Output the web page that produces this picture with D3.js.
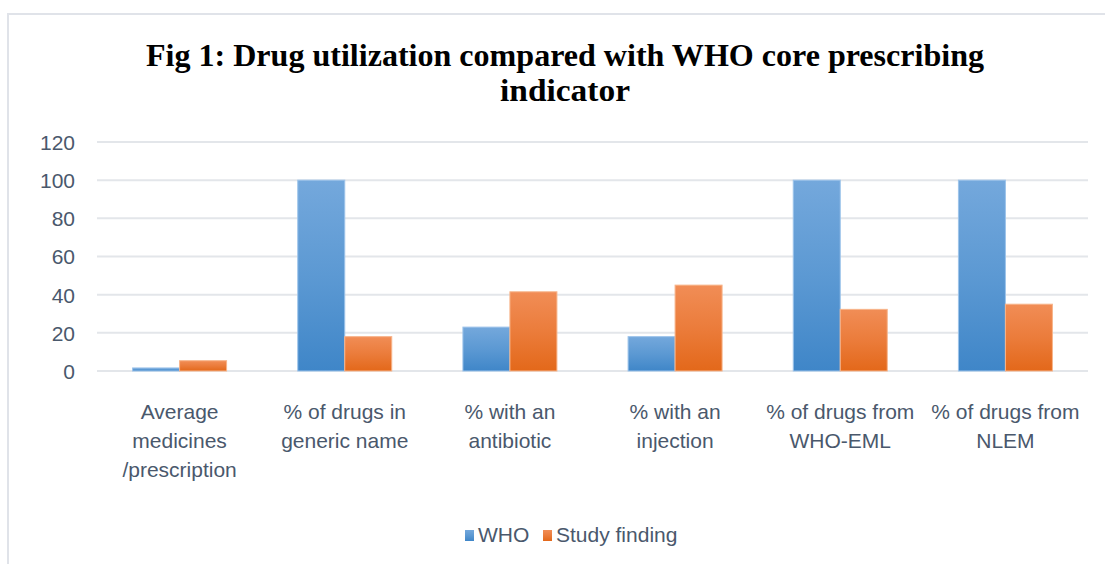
<!DOCTYPE html>
<html><head><meta charset="utf-8">
<script src="https://cdn.jsdelivr.net/npm/d3@7"></script>
<style>body{margin:0;background:#fff;}svg{display:block;}</style>
</head><body>
<svg id="c" width="1105" height="564"></svg>
<script>
const categories = [
  ["Average","medicines","/prescription"],
  ["% of drugs in","generic name"],
  ["% with an","antibiotic"],
  ["% with an","injection"],
  ["% of drugs from","WHO-EML"],
  ["% of drugs from","NLEM"]
];
const seriesNames = ["WHO","Study finding"];
const whoValues = [1.6, 100, 23, 18, 100, 100];
const studyValues = [5.4, 18, 41.5, 45, 32.3, 35];
const yTicks = [0,20,40,60,80,100,120];

const svg = d3.select("#c");
const defs = svg.append("defs");
function grad(id, c1, c2){
  const g = defs.append("linearGradient").attr("id",id).attr("x1",0).attr("y1",0).attr("x2",0).attr("y2",1);
  g.append("stop").attr("offset","0%").attr("stop-color",c1);
  g.append("stop").attr("offset","50%").attr("stop-color",d3.interpolateRgb(c1,c2)(0.45));
  g.append("stop").attr("offset","100%").attr("stop-color",c2);
}
grad("gBlue","#74a8dc","#3f86c8");
grad("gOrange","#f18d56","#e3681a");

const textFont = "'Liberation Sans',Arial,sans-serif";
const textColor = "#4a586c";

// frame
svg.append("rect").attr("x",8).attr("y",14).attr("width",1200).attr("height",700)
  .attr("fill","none").attr("stroke","#e0e3e9").attr("stroke-width",2);

const pLeft=97, pRight=1088, pTop=142, pBottom=371;
const x = d3.scaleBand().domain(d3.range(categories.length)).range([pLeft,pRight]).paddingInner(0).paddingOuter(0);
const y = d3.scaleLinear().domain([0,120]).range([pBottom,pTop]);
const bw = 47;

// grid
svg.append("g").selectAll("line").data(yTicks).join("line")
  .attr("x1",pLeft).attr("x2",pRight).attr("y1",d=>y(d)).attr("y2",d=>y(d))
  .attr("stroke","#e3e6ea").attr("stroke-width",2);

// y axis labels
const yAxis = d3.axisLeft(y).tickValues(yTicks).tickSize(0).tickPadding(0);
const ya = svg.append("g").attr("transform","translate(75,0)").call(yAxis);
ya.select(".domain").remove();
ya.selectAll("text").attr("font-family",textFont)
  .attr("font-size",21).attr("fill",textColor).attr("dy","0.35em");

// bars
const cx = i => x(i)+x.bandwidth()/2;
svg.append("g").selectAll("rect").data(whoValues).join("rect")
  .attr("x",(d,i)=>cx(i)-bw).attr("width",bw)
  .attr("y",d=>y(d)).attr("height",d=>y(0)-y(d))
  .attr("fill","url(#gBlue)").attr("stroke","#9cc3ea").attr("stroke-width",1);
svg.append("g").selectAll("rect").data(studyValues).join("rect")
  .attr("x",(d,i)=>cx(i)).attr("width",bw)
  .attr("y",d=>y(d)).attr("height",d=>y(0)-y(d))
  .attr("fill","url(#gOrange)").attr("stroke","#f7b48a").attr("stroke-width",1);

// category labels
const cl = svg.append("g").selectAll("text").data(categories).join("text")
  .attr("text-anchor","middle")
  .attr("font-family",textFont)
  .attr("font-size",21).attr("fill",textColor);
cl.each(function(d,i){
  d3.select(this).selectAll("tspan").data(d).join("tspan")
    .attr("x",cx(i)).attr("y",(t,j)=>419+j*29).text(t=>t);
});

// title
const title = svg.append("g").attr("font-family","'Liberation Serif','Times New Roman',serif")
  .attr("font-weight","bold").attr("font-size",31).attr("fill","#000").attr("text-anchor","middle");
title.append("text").attr("x",565).attr("y",66).attr("textLength",838).attr("lengthAdjust","spacingAndGlyphs")
  .text("Fig 1: Drug utilization compared with WHO core prescribing");
title.append("text").attr("x",565).attr("y",101).attr("textLength",130).attr("lengthAdjust","spacingAndGlyphs")
  .text("indicator");

// legend
const legend = svg.append("g");
const lx = [465, 543];
const lcol = ["url(#gBlue)","url(#gOrange)"];
seriesNames.forEach((n,i)=>{
  legend.append("rect").attr("x",lx[i]).attr("y",530).attr("width",9).attr("height",11).attr("fill",lcol[i]);
  legend.append("text").attr("x",lx[i]+13).attr("y",542)
    .attr("font-family",textFont)
    .attr("font-size",21).attr("fill",textColor).text(n);
});
</script>
</body></html>
